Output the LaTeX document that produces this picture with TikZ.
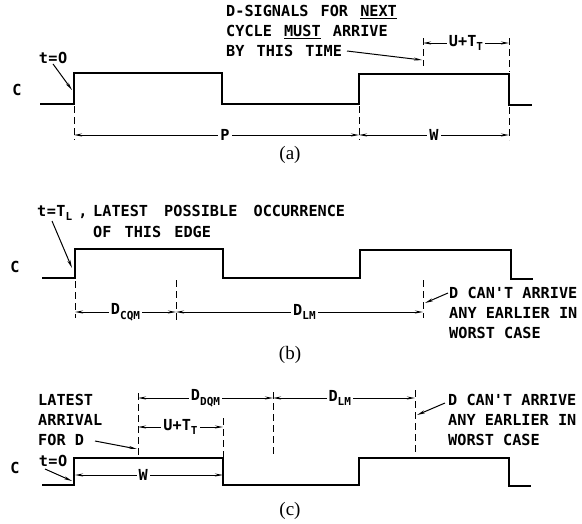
\documentclass[tikz,border=0pt]{standalone}
\usepackage{fontspec}
\setmainfont{Liberation Serif}
\newfontfamily\letterfont{DejaVu Sans Mono Bold}
\usetikzlibrary{arrows.meta}
\newcommand{\lettering}{\letterfont\fontsize{15.2}{19.8}\selectfont}
\newcommand{\lowsub}[1]{\raisebox{-0.55ex}{\fontsize{11}{11}\selectfont #1}}
\newcommand{\eqs}{\hspace{0.5pt}=\hspace{0.5pt}}
\tikzset{
  wave/.style={line width=2.6pt, line join=miter},
  dimline/.style={line width=1pt, {Stealth[length=8pt,width=3pt]}-{Stealth[length=8pt,width=3pt]}},
  ext/.style={line width=0.9pt, dash pattern=on 7pt off 4pt},
  lbl/.style={font=\lettering, inner sep=0pt},
  txt/.style={font=\lettering, inner sep=0pt, anchor=west, align=left},
  dimlbl/.style={font=\lettering, fill=white, inner sep=2pt},
  ptr/.style={line width=1pt, -{Stealth[length=8pt,width=3pt]}},
  figcap/.style={font=\fontsize{19}{19}\selectfont, inner sep=0pt}
}
\begin{document}
\begin{tikzpicture}[x=1pt,y=-1pt]
\useasboundingbox (0,0) rectangle (582,523);
% ================= (a) =================
\node[lbl] (Ca) at (17,90) {C};
\draw[wave] (40,104) -- (74,104) -- (74,73) -- (222,73) -- (222,104) -- (359,104) -- (359,74) -- (509,74) -- (509,105) -- (532,105);
\node[lbl] (t0a) at (53,58) {t\eqs O};
\coordinate (t0atip) at (72,90);
\draw[ptr] (t0a.south) -- (t0atip);
\node[txt, anchor=north west] (dsig) at (226,5) {D-SIGNALS\hspace{3pt} FOR\hspace{3pt} \underline{NEXT}\\CYCLE\hspace{3pt} \underline{MUST}\hspace{3pt} ARRIVE\\BY\hspace{3pt} THIS\hspace{3pt} TIME};
\coordinate (dsigtail) at (347,51);
\coordinate (dsigtip) at (422,60);
\draw[ptr] (dsigtail) -- (dsigtip);
% extension lines
\draw[ext] (74,106) -- (74,140);
\draw[ext] (359,106) -- (359,140);
\draw[ext] (509,107) -- (509,140);
\draw[ext] (509,38) -- (509,72);
\draw[ext] (423,38) -- (423,66);
% dimensions
\coordinate (aP1) at (74,135);
\coordinate (aP2) at (359,135);
\coordinate (aW2) at (509,135);
\coordinate (aU1) at (423,43);
\coordinate (aU2) at (509,43);
\draw[dimline] (aP1) -- (aP2) node[pos=0.53, dimlbl] (Pa) {P};
\draw[dimline] (aP2) -- (aW2) node[pos=0.5, dimlbl] (Wa) {W};
\draw[dimline] (aU1) -- (aU2) node[pos=0.5, dimlbl] (Ua) {U+T\lowsub{T}};
\node[figcap] (capa) at (290,155) {(a)};
% ================= (b) =================
\node[lbl] (Cb) at (15,267) {C};
\draw[wave] (42,278) -- (75,278) -- (75,249) -- (223,249) -- (223,278) -- (360,278) -- (360,250) -- (511,250) -- (511,279) -- (533,279);
\node[txt, anchor=base west] (tl) at (37,216) {t\eqs T\lowsub{L}\hspace{6pt},};
\node[txt, anchor=base west] (latest) at (93,216) {LATEST\hspace{7pt} POSSIBLE\hspace{7pt} OCCURRENCE};
\node[txt, anchor=base west] (edge) at (93,237) {OF\hspace{4pt} THIS\hspace{4pt} EDGE};
\coordinate (tltip) at (72,268);
\draw[ptr] (52,221) -- (tltip);
\draw[ext] (75,281) -- (75,318);
\draw[ext] (176,280) -- (176,320);
\draw[ext] (423,280) -- (423,318);
\coordinate (bD1) at (75,312);
\coordinate (bD2) at (176,312);
\coordinate (bD3) at (423,312);
\draw[dimline] (bD1) -- (bD2) node[pos=0.5, dimlbl] (Dcqm) {D\lowsub{CQM}};
\draw[dimline] (bD2) -- (bD3) node[pos=0.52, dimlbl] (Dlmb) {D\lowsub{LM}};
\node[txt, anchor=north west] (cantb) at (449,287) {D CAN'T ARRIVE\\ANY EARLIER IN\\WORST CASE};
\coordinate (cantbtip) at (425,303);
\draw[ptr] (448,293) -- (cantbtip);
\node[figcap] (capb) at (290,355) {(b)};
% ================= (c) =================
\node[lbl] (Cc) at (15,468) {C};
\draw[wave] (42,485) -- (74,485) -- (74,458) -- (223,458) -- (223,485) -- (359,485) -- (359,458) -- (509,458) -- (509,486) -- (531,486);
\node[lbl] (t0c) at (53,461) {t\eqs O};
\coordinate (t0ctip) at (72,481);
\draw[ptr] (45,469) -- (t0ctip);
\node[txt, anchor=north west] (arr) at (38,394) {LATEST\\ARRIVAL\\FOR D};
\coordinate (arrtip) at (137,449);
\draw[ptr] (95,441) -- (arrtip);
\draw[ext] (138,393) -- (138,457);
\draw[ext] (223,418) -- (223,457);
\draw[ext] (273,392) -- (273,455);
\draw[ext] (415,390) -- (415,455);
\coordinate (cW1) at (75,475);
\coordinate (cW2) at (223,475);
\draw[dimline] (cW1) -- (cW2) node[pos=0.46, dimlbl] (Wc) {W};
\coordinate (cU1) at (138,427);
\coordinate (cU2) at (223,427);
\draw[dimline] (cU1) -- (cU2) node[pos=0.5, dimlbl] (Uc) {U+T\lowsub{T}};
\coordinate (cD1) at (138,398);
\coordinate (cD2) at (273,398);
\coordinate (cD3) at (415,398);
\draw[dimline] (cD1) -- (cD2) node[pos=0.5, dimlbl] (Ddqm) {D\lowsub{DQM}};
\draw[dimline] (cD2) -- (cD3) node[pos=0.47, dimlbl] (Dlmc) {D\lowsub{LM}};
\node[txt, anchor=north west] (cantc) at (448,394) {D CAN'T ARRIVE\\ANY EARLIER IN\\WORST CASE};
\coordinate (cantctip) at (417,415);
\draw[ptr] (445,403) -- (cantctip);
\node[figcap] (capc) at (290,511) {(c)};
\end{tikzpicture}
\end{document}
